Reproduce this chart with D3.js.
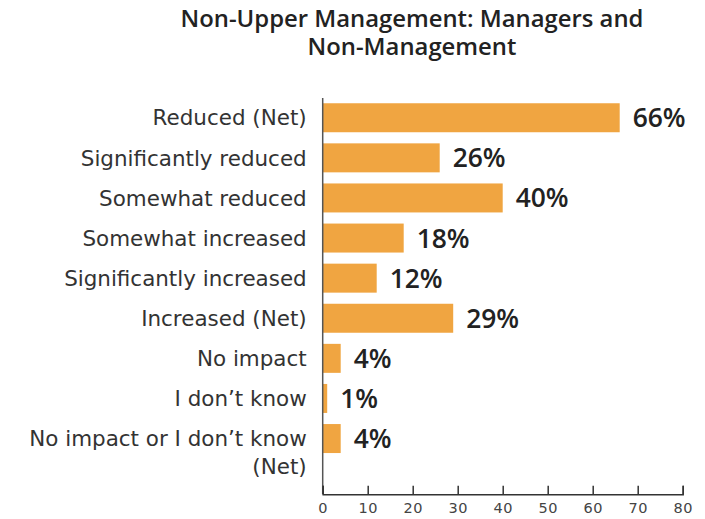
<!DOCTYPE html>
<html>
<head>
<meta charset="utf-8">
<script src="https://cdn.jsdelivr.net/npm/d3@7"></script>
<style>
  html, body { margin: 0; padding: 0; background: #fff; }
  svg { display: block; }
</style>
</head>
<body>
<svg id="chart" width="705" height="519"></svg>
<script>
const titleLines = ["Non-Upper Management: Managers and", "Non-Management"];
const categories = [
  "Reduced (Net)",
  "Significantly reduced",
  "Somewhat reduced",
  "Somewhat increased",
  "Significantly increased",
  "Increased (Net)",
  "No impact",
  "I don\u2019t know",
  "No impact or I don\u2019t know (Net)"
];
const categoryLines = [
  ["Reduced (Net)"],
  ["Significantly reduced"],
  ["Somewhat reduced"],
  ["Somewhat increased"],
  ["Significantly increased"],
  ["Increased (Net)"],
  ["No impact"],
  ["I don\u2019t know"],
  ["No impact or I don\u2019t know", "(Net)"]
];
const values = [66, 26, 40, 18, 12, 29, 4, 1, 4];
const xTicks = [0, 10, 20, 30, 40, 50, 60, 70, 80];

const svg = d3.select("#chart");
const x = d3.scaleLinear().domain([0, 80]).range([322.7, 682.7]);
const y = d3.scaleBand().domain(categories)
  .range([97.7, 97.7 + 9 * 40.1]).paddingInner(0.277).paddingOuter(0.1385);
const axisY = 494.3;

const SANS = "'DejaVu Sans', 'Noto Sans', sans-serif";
const MED = "'Open Sans', 'Noto Sans', sans-serif";

// fit helper: scale font so a reference string reaches a target width
function fitSize(sample, family, weight, base, target) {
  const t = svg.append("text")
    .attr("font-family", family).attr("font-size", base).attr("font-weight", weight)
    .text(sample);
  const w = t.node().getComputedTextLength();
  t.remove();
  return base * target / w;
}
const titleSize = fitSize(titleLines[0], MED, 600, 20, 463);
const catSize = fitSize("Significantly reduced", SANS, 400, 19, 226);
const valSize = fitSize("66%", MED, 600, 22, 53);

// title (one text, two lines)
const title = svg.append("text")
  .attr("x", 412).attr("y", 27)
  .attr("text-anchor", "middle")
  .attr("font-family", MED).attr("font-size", titleSize).attr("font-weight", 600)
  .attr("fill", "#222");
titleLines.forEach((ln, i) => {
  title.append("tspan").attr("x", 412).attr("dy", i === 0 ? 0 : 27.5).text(ln);
});

// bars
svg.append("g").selectAll("rect").data(values).join("rect")
  .attr("x", x(0))
  .attr("y", (d, i) => y(categories[i]))
  .attr("width", d => x(d) - x(0))
  .attr("height", y.bandwidth())
  .attr("fill", "#F0A541");

// value labels
svg.append("g")
  .attr("font-family", MED).attr("font-size", valSize).attr("font-weight", 600)
  .attr("fill", "#222")
  .selectAll("text").data(values).join("text")
  .attr("x", d => x(d) + 13)
  .attr("y", (d, i) => y(categories[i]) + y.bandwidth() / 2)
  .attr("dy", "0.36em")
  .text(d => d + "%");

// category labels
const catG = svg.append("g")
  .attr("font-family", SANS).attr("font-size", catSize).attr("fill", "#333")
  .attr("text-anchor", "end");
categoryLines.forEach((lines, i) => {
  const t = catG.append("text")
    .attr("x", 306.7)
    .attr("y", y(categories[i]) + y.bandwidth() / 2);
  lines.forEach((ln, j) => {
    t.append("tspan").attr("x", 306.7)
      .attr("dy", j === 0 ? "0.36em" : "1.3em")
      .text(ln);
  });
});

// vertical axis line
svg.append("line")
  .attr("x1", x(0)).attr("x2", x(0))
  .attr("y1", 98).attr("y2", axisY)
  .attr("stroke", "#555").attr("stroke-width", 1.5);

// x axis
const xAxis = d3.axisBottom(x).tickValues(xTicks).tickSize(-8.5).tickPadding(8);
const gx = svg.append("g").attr("transform", `translate(0,${axisY})`).call(xAxis);
gx.attr("font-family", SANS).attr("font-size", 14.5);
gx.select(".domain").attr("stroke", "#333").attr("stroke-width", 1.5);
gx.selectAll(".tick line").attr("stroke", "#333").attr("stroke-width", 1.5);
gx.selectAll(".tick text")
  .attr("font-family", SANS).attr("font-size", 14.5)
  .attr("letter-spacing", 0.5)
  .attr("fill", "#444");
</script>
</body>
</html>
